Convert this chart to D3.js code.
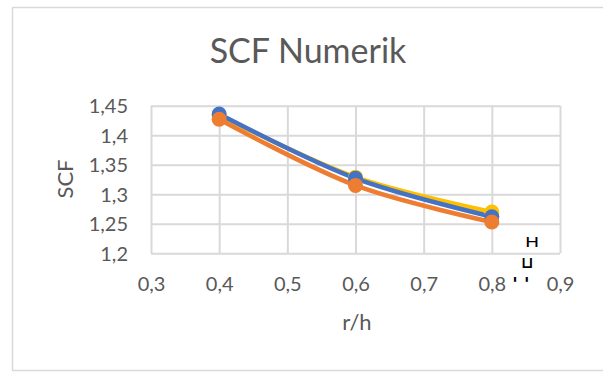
<!DOCTYPE html>
<html><head><meta charset="utf-8">
<script src="https://cdn.jsdelivr.net/npm/d3@7"></script>
<style>body{margin:0;background:#fff}svg{display:block}</style>
</head><body>
<svg id="c" width="603" height="372"></svg>
<script>
const xValues = [0.4, 0.6, 0.8];
const seriesYellow = [1.434, 1.329, 1.270];
const seriesBlue = [1.436, 1.327, 1.262];
const seriesOrange = [1.427, 1.315, 1.253];
const xTicks = [0.3, 0.4, 0.5, 0.6, 0.7, 0.8, 0.9];
const yTicks = [1.2, 1.25, 1.3, 1.35, 1.4, 1.45];
const title = "SCF Numerik";
const xTitle = "r/h";
const yTitle = "SCF";

const series = [
  {name: "Yellow", values: seriesYellow, color: "#FFC000"},
  {name: "Blue", values: seriesBlue, color: "#4472C4"},
  {name: "Orange", values: seriesOrange, color: "#ED7D31"}
];

const svg = d3.select("#c");
const font = "Lato, 'Open Sans', sans-serif";
const txt = "#595959";

// chart border
svg.append("rect").attr("x", 12.5).attr("y", 7.5).attr("width", 600).attr("height", 363)
  .attr("fill", "none").attr("stroke", "#d9d9d9").attr("stroke-width", 1.5);

const x = d3.scaleLinear().domain([0.3, 0.9]).range([151, 560]);
const y = d3.scaleLinear().domain([1.2, 1.45]).range([253.3, 105.7]);
const fmt = d => String(d).replace(".", ",");

// gridlines
const gx = svg.append("g").attr("transform", "translate(0,253.3)")
  .call(d3.axisBottom(x).tickValues(xTicks).tickSize(-(253.3 - 105.7)).tickFormat(""));
gx.select(".domain").remove();
gx.selectAll("line").attr("stroke", "#d9d9d9").attr("stroke-width", 2);

const gy = svg.append("g").attr("transform", "translate(151,0)")
  .call(d3.axisLeft(y).tickValues(yTicks).tickSize(-(560 - 151)).tickFormat(""));
gy.select(".domain").remove();
gy.selectAll("line").attr("stroke", "#d9d9d9").attr("stroke-width", 2);

// tick labels
svg.append("g").attr("transform", "translate(0,253.3)")
  .call(d3.axisBottom(x).tickValues(xTicks).tickSize(0).tickPadding(0).tickFormat(fmt))
  .call(g => g.select(".domain").remove())
  .selectAll("text").attr("y", 38).attr("dy", null)
  .attr("font-family", font).attr("font-size", 20).attr("fill", txt);

svg.append("g").attr("transform", "translate(128,0)")
  .call(d3.axisLeft(y).tickValues(yTicks).tickSize(0).tickPadding(0).tickFormat(fmt))
  .call(g => g.select(".domain").remove())
  .selectAll("text").attr("x", 0).attr("dy", "0.35em")
  .attr("font-family", font).attr("font-size", 20).attr("fill", txt);

// lines and markers
const line = d3.line().x((d, i) => x(xValues[i])).y(d => y(d)).curve(d3.curveCatmullRom);
series.forEach(s => {
  svg.append("path").datum(s.values).attr("d", line)
    .attr("fill", "none").attr("stroke", s.color).attr("stroke-width", 4.5)
    .attr("stroke-linecap", "round").attr("stroke-linejoin", "round");
});
series.forEach(s => {
  svg.append("g").selectAll("circle").data(s.values).join("circle")
    .attr("cx", (d, i) => x(xValues[i])).attr("cy", d => y(d)).attr("r", 7.5)
    .attr("fill", s.color);
});

// titles
svg.append("text").attr("x", 308).attr("y", 63).attr("text-anchor", "middle")
  .attr("font-family", font).attr("font-size", 34).attr("fill", txt).text(title);
svg.append("text").attr("x", 357).attr("y", 330).attr("text-anchor", "middle")
  .attr("font-family", font).attr("font-size", 22).attr("fill", txt).text(xTitle);
svg.append("text").attr("transform", "translate(73,179) rotate(-90)").attr("text-anchor", "middle")
  .attr("font-family", font).attr("font-size", 22).attr("fill", txt).text(yTitle);

// broken legend glyphs
svg.append("text").attr("transform", "translate(532,247) scale(1.35,1)").attr("text-anchor", "middle")
  .attr("font-family", "DejaVu Sans").attr("font-size", 14).attr("fill", "#000").text("H");
svg.append("text").attr("x", 527).attr("y", 268).attr("text-anchor", "middle")
  .attr("font-family", "DejaVu Sans").attr("font-weight", "bold").attr("font-size", 16).attr("fill", "#000").text("⊔");
svg.append("text").attr("x", 521).attr("y", 290).attr("text-anchor", "middle")
  .attr("font-family", "DejaVu Sans").attr("font-weight", "bold").attr("font-size", 18).attr("fill", "#000").text("' '");
</script>
</body></html>
